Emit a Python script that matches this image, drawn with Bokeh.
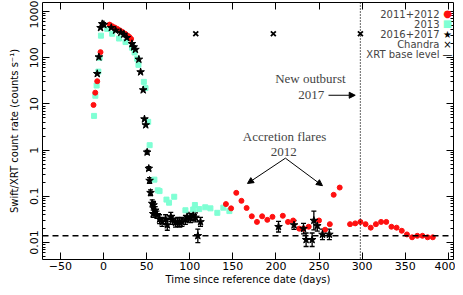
import numpy as np
from bokeh.plotting import figure
from bokeh.models import (ColumnDataSource, FixedTicker, LogAxis, LinearAxis, Span, Label,
                          Whisker, TeeHead, Arrow, NormalHead, CustomJSTickFormatter, Range1d)
from bokeh.embed import file_html
from bokeh.resources import INLINE

# ---------------- data ----------------
red_day = [-11.6, -9.6, -7.3, -3.5, 7, 10, 13, 16, 19, 22, 25, 28, 30, 32,
           142, 148, 154, 160, 166, 172, 178, 184, 190, 196, 208, 214, 220, 227,
           232, 238, 250, 257, 262.5, 267, 274, 286, 292, 298, 304, 310, 316, 322,
           328, 334, 340, 346, 352, 358, 364, 370, 376, 382]
red_rate = [9.5, 17.5, 31, 132, 520, 480, 450, 420, 390, 360, 330, 300, 280, 255,
            0.068, 0.055, 0.119, 0.080, 0.056, 0.037, 0.028, 0.037, 0.031, 0.036, 0.038, 0.028, 0.030, 0.020,
            0.020, 0.022, 0.030, 0.019, 0.025, 0.108, 0.155, 0.025, 0.026, 0.028, 0.025, 0.021, 0.025, 0.028,
            0.028, 0.022, 0.021, 0.018, 0.015, 0.013, 0.014, 0.014, 0.013, 0.013]
red_err = [0.0] * 14 + [0.08] * 38

cyan_day = [-11, -9.5, -8, -6, -4.5, -3, 4.3, 10, 18, 25.5, 33, 36, 39, 40.5, 46.8, 48.7,
            51.8, 53.5, 59, 63, 65, 73, 76, 82, 95, 104, 106, 111, 118, 124, 132, 139, 146]
cyan_rate = [5.5, 15, 25, 50, 100, 300, 420, 330, 260, 218, 165, 130, 95, 70, 30, 22,
             4.1, 1.28, 0.23, 0.135, 0.13, 0.085, 0.073, 0.098, 0.050, 0.052, 0.065, 0.053, 0.058,
             0.055, 0.044, 0.057, 0.048]

star_day = [-7.3, -5.4, -3.5, -1.5, 0.4, 9, 14, 20, 23.5, 27, 33, 35, 37, 41, 43, 46, 47.5, 49,
            50.6, 52.5, 53.4, 54.5, 56.5, 57.6, 58, 60, 62, 65, 68, 72, 74, 78, 80, 83.5, 86, 88.5,
            91, 95, 97, 101, 104, 106.7, 109.4, 112.5, 203, 221, 232, 235, 242, 244, 248, 254, 262]
star_rate = [45, 103, 445, 540, 520, 445, 390, 350, 320, 270, 200, 170, 150, 92, 49, 20, 4.7, 3.5,
             0.90, 0.40, 0.22, 0.12, 0.070, 0.042, 0.065, 0.050, 0.040, 0.032, 0.028, 0.032, 0.024,
             0.036, 0.031, 0.027, 0.028, 0.027, 0.028, 0.031, 0.036, 0.034, 0.038, 0.035, 0.014,
             0.028, 0.022, 0.024, 0.020, 0.0115, 0.0115, 0.030, 0.023, 0.015, 0.015]
star_err = [0.0] * 18 + [0.1, 0.1, 0.15, 0.15, 0.2, 0.2, 0.2, 0.2, 0.2, 0.25, 0.25, 0.25, 0.3,
                         0.25, 0.25, 0.25, 0.25, 0.25, 0.25, 0.25, 0.25, 0.25, 0.25, 0.25, 0.4,
                         0.25, 0.3, 0.25, 0.3, 0.4, 0.4, 0.6, 0.3, 0.3, 0.3]

chandra_day = [107, 197, 298]
chandra_rate = [330, 330, 330]

base_level = 0.014
outburst_day = 298

y_ticks = [0.01, 0.1, 1, 10, 100, 1000]
x_ticks = [-50, 0, 50, 100, 150, 200, 250, 300, 350, 400]
minor_y = [m * 10.0 ** e for e in range(-3, 4) for m in range(2, 10)]

legend_labels = ["2011+2012", "2013", "2016+2017", "Chandra", "XRT base level"]
legend_syms = ["\u25cf", "\u25a0", "\u2605", "\u00d7", "\u2014"]
legend_colors = ["#ff1010", "#7fffd4", "black", "black", "black"]

RED = "#ff1010"
CYAN = "#7fffd4"
FONT = "DejaVu Sans"
SERIF = "Liberation Serif"

# ---------------- figure ----------------
W, H = 455, 287
FL, FT, FB, FR = 42, 2, 259, 453   # frame edges in pixels
p = figure(width=W, height=H, output_backend="svg", toolbar_location=None,
           y_axis_type="log", x_range=Range1d(-70.8, 406.0), y_range=Range1d(0.0043, 1565))
p.min_border_left = FL
p.min_border_right = W - FR
p.min_border_top = FT
p.min_border_bottom = H - FB
p.grid.visible = False
p.outline_line_color = "black"
p.outline_line_width = 1
p.background_fill_color = "white"
p.border_fill_color = "white"

yt = FixedTicker(ticks=y_ticks, minor_ticks=minor_y)
xt = FixedTicker(ticks=x_ticks, minor_ticks=[])
fmt = CustomJSTickFormatter(code="return tick.toString();")
blank = CustomJSTickFormatter(code="return '';")

ya = p.yaxis[0]
ya.ticker = yt
ya.formatter = fmt
xa = p.xaxis[0]
xa.ticker = xt

for ax in (xa, ya):
    ax.major_tick_in = 7
    ax.major_tick_out = 0
    ax.minor_tick_in = 3
    ax.minor_tick_out = 0
    ax.axis_line_color = None
    ax.major_label_text_font = FONT
    ax.major_label_text_font_size = "11px"
    ax.major_label_text_color = "black"
    ax.axis_label_text_font = FONT
    ax.axis_label_text_font_size = "10px"
    ax.axis_label_text_font_style = "normal"
    ax.axis_label_text_color = "black"
    ax.major_tick_line_color = "black"
    ax.minor_tick_line_color = "black"

ya.major_label_orientation = "vertical"
ya.major_label_standoff = 4
ya.axis_label = "Swift/XRT count rate (counts s\u207b\u00b9)"
ya.axis_label_standoff = 8
xa.major_label_standoff = 2
xa.axis_label = "Time since reference date (days)"
xa.axis_label_standoff = 1

ra = LogAxis(ticker=FixedTicker(ticks=y_ticks, minor_ticks=minor_y), formatter=blank)
ta = LinearAxis(ticker=FixedTicker(ticks=x_ticks, minor_ticks=[]), formatter=blank)
for ax in (ra, ta):
    ax.major_tick_in = 7
    ax.major_tick_out = 0
    ax.minor_tick_in = 3
    ax.minor_tick_out = 0
    ax.axis_line_color = None
    ax.major_label_standoff = 0
p.add_layout(ra, "right")
p.add_layout(ta, "above")

# base level and outburst line
p.add_layout(Span(location=base_level, dimension="width", line_color="black",
                  line_dash="6 4", line_width=1.5))
p.add_layout(Span(location=outburst_day, dimension="height", line_color="black",
                  line_dash="1 2", line_width=1.2))

# error bars
def err_source(days, rates, errs):
    d = [x for x, e in zip(days, errs) if e > 0]
    r = [y for y, e in zip(rates, errs) if e > 0]
    e = [e for e in errs if e > 0]
    return ColumnDataSource(dict(x=d, lo=[y / (1 + k) for y, k in zip(r, e)],
                                 hi=[y * (1 + k) for y, k in zip(r, e)]))

red_es = err_source(red_day, red_rate, red_err)
p.add_layout(Whisker(source=red_es, base="x", lower="lo", upper="hi", line_color="#ff6060",
                     line_width=1, upper_head=None, lower_head=None))
star_es = err_source(star_day, star_rate, star_err)
p.add_layout(Whisker(source=star_es, base="x", lower="lo", upper="hi", line_color="black",
                     line_width=1.3,
                     upper_head=TeeHead(size=5, line_color="black", line_width=1.3),
                     lower_head=TeeHead(size=5, line_color="black", line_width=1.3)))

# data
p.scatter(cyan_day, cyan_rate, marker="square", size=5, fill_color=CYAN, line_color=CYAN)
p.scatter(red_day, red_rate, marker="circle", size=5, fill_color=RED, line_color=RED)
p.scatter(star_day, star_rate, marker="star", size=8, fill_color="black", line_color="black")
p.scatter(chandra_day, chandra_rate, marker="x", size=7, line_color="black", line_width=1.8)

# annotations
p.add_layout(Label(x=240, y=35.7, text="New outburst", text_font=SERIF, text_font_size="13px",
                   text_align="center", text_baseline="middle"))
p.add_layout(Label(x=241, y=15.4, text="2017", text_font=SERIF, text_font_size="13px",
                   text_align="center", text_baseline="middle"))
p.add_layout(Arrow(x_start=261, y_start=15.4, x_end=292, y_end=15.4, line_width=1,
                   end=NormalHead(size=6, fill_color="black", line_color="black")))
p.add_layout(Label(x=210, y=2.0, text="Accretion flares", text_font=SERIF, text_font_size="13px",
                   text_align="center", text_baseline="middle"))
p.add_layout(Label(x=209, y=0.90, text="2012", text_font=SERIF, text_font_size="13px",
                   text_align="center", text_baseline="middle"))
for xe, ye in ((167, 0.19), (254, 0.17)):
    p.add_layout(Arrow(x_start=211, y_start=0.67, x_end=xe, y_end=ye, line_width=1,
                       end=NormalHead(size=6, fill_color="black", line_color="black")))

# legend (label left, symbol right); screen units are relative to the frame
for i, (lab, sym, col) in enumerate(zip(legend_labels, legend_syms, legend_colors)):
    yy = FB - (13 + 10.3 * i)
    p.add_layout(Label(x=439 - FL, y=yy, x_units="screen", y_units="screen", text=lab,
                       text_font=FONT, text_font_size="10px", text_align="right",
                       text_baseline="middle"))
    p.add_layout(Label(x=447 - FL, y=yy, x_units="screen", y_units="screen", text=sym,
                       text_font=FONT, text_font_size="10px", text_align="center",
                       text_baseline="middle", text_color=col))

open("out.html", "w").write(file_html(p, INLINE))
